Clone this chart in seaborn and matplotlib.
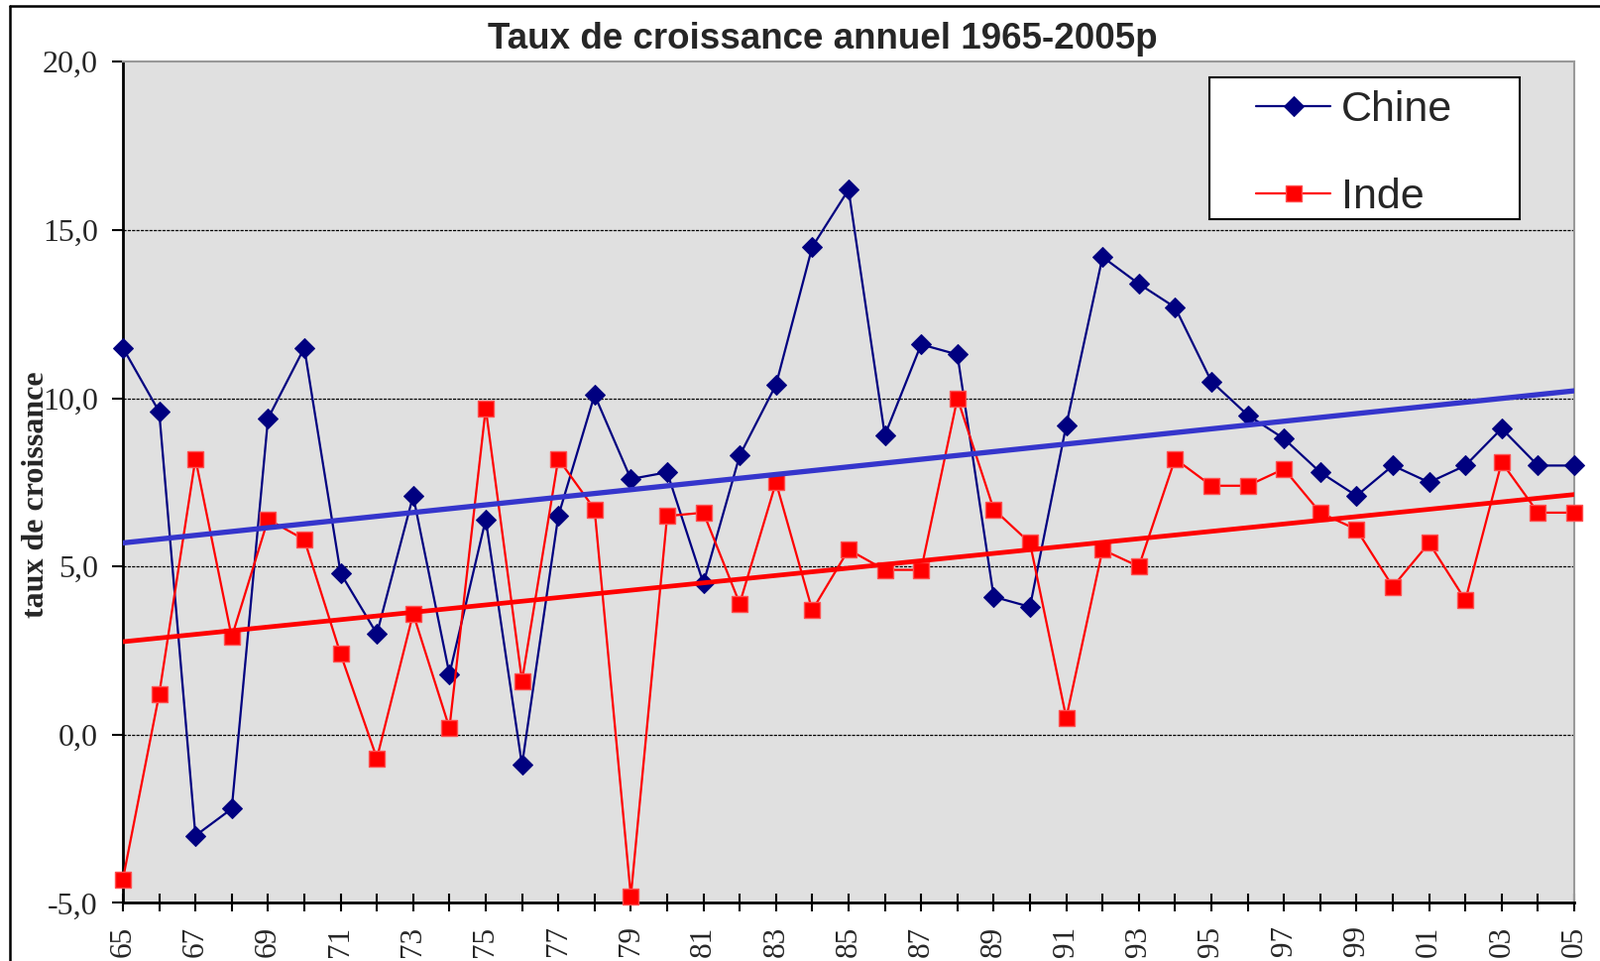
import matplotlib
matplotlib.use("Agg")
import matplotlib.pyplot as plt
import seaborn as sns
import pandas as pd
from matplotlib.lines import Line2D
from matplotlib.patches import Rectangle

# ── Data ──────────────────────────────────────────────────────────────────────
years = list(range(1965, 2006))
chine = [11.5, 9.6, -3.0, -2.2, 9.4, 11.5, 4.8, 3.0, 7.1, 1.8,
         6.4, -0.9, 6.5, 10.1, 7.6, 7.8, 4.5, 8.3, 10.4, 14.5,
         16.2, 8.9, 11.6, 11.3, 4.1, 3.8, 9.2, 14.2, 13.4, 12.7,
         10.5, 9.5, 8.8, 7.8, 7.1, 8.0, 7.5, 8.0, 9.1, 8.0, 8.0]
inde = [-4.3, 1.2, 8.2, 2.9, 6.4, 5.8, 2.4, -0.7, 3.6, 0.2,
        9.7, 1.6, 8.2, 6.7, -4.8, 6.5, 6.6, 3.9, 7.5, 3.7,
        5.5, 4.9, 4.9, 10.0, 6.7, 5.7, 0.5, 5.5, 5.0, 8.2,
        7.4, 7.4, 7.9, 6.6, 6.1, 4.4, 5.7, 4.0, 8.1, 6.6, 6.6]
xtick_labels = ["65", "", "67", "", "69", "", "71", "", "73", "", "75", "",
                "77", "", "79", "", "81", "", "83", "", "85", "", "87", "",
                "89", "", "91", "", "93", "", "95", "", "97", "", "99", "",
                "01", "", "03", "", "05"]
ytick_values = [-5, 0, 5, 10, 15, 20]
ytick_labels = ["-5,0", "0,0", "5,0", "10,0", "15,0", "20,0"]

df = pd.DataFrame({"annee": years, "Chine": chine, "Inde": inde})

# ── Style ─────────────────────────────────────────────────────────────────────
sns.set_theme(style="white")
plt.rcParams["font.family"] = ["Liberation Serif", "DejaVu Serif"]

fig = plt.figure(figsize=(16.14, 9.69), dpi=100)
ax = fig.add_axes([0.0768, 0.0604, 0.9071, 0.8753])
ax.set_facecolor("#e0e0e0")

# horizontal dashed grid
for v in [0, 5, 10, 15]:
    ax.axhline(v, color="black", lw=0.9, ls=(0, (2.5, 1)), zorder=1)

# ── Series ────────────────────────────────────────────────────────────────────
sns.lineplot(data=df, x="annee", y="Chine", ax=ax, color="#000080", lw=1.6,
             marker="D", markersize=10, markeredgecolor="#000080",
             label="Chine", zorder=3, clip_on=False)
sns.lineplot(data=df, x="annee", y="Inde", ax=ax, color="#ff0000", lw=1.6,
             marker="s", markersize=11.5, markeredgecolor="#ff5050",
             markeredgewidth=1.0, label="Inde", zorder=4, clip_on=False)

# linear trends
sns.regplot(data=df, x="annee", y="Chine", ax=ax, scatter=False, ci=None,
            line_kws={"color": "#3535cc", "lw": 3.8, "zorder": 5})
sns.regplot(data=df, x="annee", y="Inde", ax=ax, scatter=False, ci=None,
            line_kws={"color": "#ff0000", "lw": 3.4, "zorder": 5})

# ── Axes ──────────────────────────────────────────────────────────────────────
ax.set_xlim(1965, 2005)
ax.set_ylim(-5, 20)
ax.set_xticks(years)
ax.set_xticklabels(xtick_labels, rotation=90, fontsize=22.5)
ax.set_yticks(ytick_values)
ax.set_yticklabels(ytick_labels, fontsize=23)
ax.tick_params(axis="x", direction="inout", length=13, width=1.5,
               color="black", pad=10, bottom=True)
ax.tick_params(axis="y", direction="out", length=8, width=1.5,
               color="black", pad=10, left=True)
ax.set_xlabel("")
ax.set_ylabel("taux de croissance", fontsize=23, fontweight="bold")
ax.yaxis.set_label_coords(-0.050, 0.485)

for side in ["left", "bottom"]:
    ax.spines[side].set_color("black")
    ax.spines[side].set_linewidth(2)
for side in ["top", "right"]:
    ax.spines[side].set_color("#999999")
    ax.spines[side].set_linewidth(1.5)

# ── Title ─────────────────────────────────────────────────────────────────────
fig.text(0.514, 0.9595, "Taux de croissance annuel 1965-2005p",
         ha="center", va="center", fontsize=26.5, fontweight="bold",
         family=["Liberation Sans", "DejaVu Sans"])

# ── Legend ────────────────────────────────────────────────────────────────────
fig.patches.append(Rectangle((0.7559, 0.7719), 0.1939, 0.1476,
                             transform=fig.transFigure, facecolor="white",
                             edgecolor="black", lw=1.5, zorder=10))
handles, labels = ax.get_legend_handles_labels()
leg = fig.legend(handles, labels, loc="upper left",
                 bbox_to_anchor=(0.785, 0.906), frameon=False,
                 prop={"family": ["Liberation Sans", "DejaVu Sans"], "size": 31},
                 handlelength=1.75, handletextpad=0.25, labelspacing=1.12,
                 borderpad=0, borderaxespad=0, numpoints=1)
leg.set_zorder(11)
if ax.get_legend() is not None:
    ax.get_legend().remove()

# ── Outer frame (cropped chart) ───────────────────────────────────────────────
fig.add_artist(Line2D([0.0062, 0.0062], [-0.1, 0.9938], color="black",
                      lw=1.8, transform=fig.transFigure))
fig.add_artist(Line2D([0.0062, 1.1], [0.9938, 0.9938], color="black",
                      lw=1.8, transform=fig.transFigure))

fig.savefig("out.png", dpi=100)
